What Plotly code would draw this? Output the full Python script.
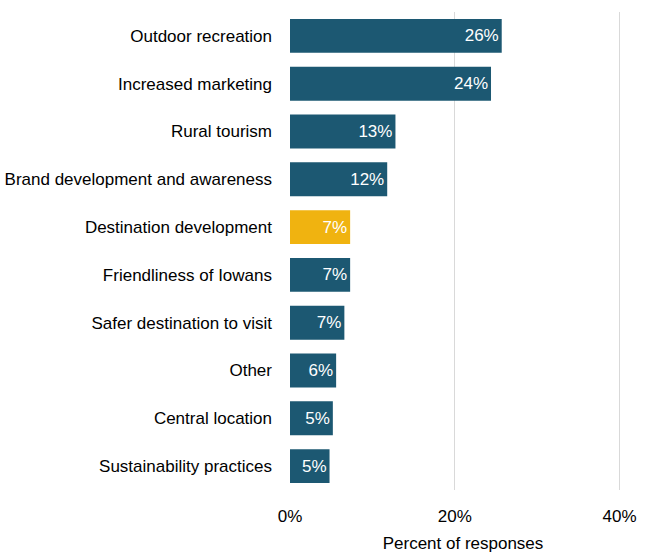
import plotly.graph_objects as go

# Survey responses: share of respondents citing each factor
categories = [
    "Outdoor recreation",
    "Increased marketing",
    "Rural tourism",
    "Brand development and awareness",
    "Destination development",
    "Friendliness of Iowans",
    "Safer destination to visit",
    "Other",
    "Central location",
    "Sustainability practices",
]
percent = [25.7, 24.4, 12.8, 11.8, 7.3, 7.3, 6.6, 5.6, 5.2, 4.8]
highlight = "Destination development"

BASE = "#1c5872"
ACCENT = "#f0b310"
FONT = "Liberation Sans Narrow, Arial Narrow, Liberation Sans, Arial, sans-serif"

colors = [ACCENT if c == highlight else BASE for c in categories]

fig = go.Figure(
    go.Bar(
        x=percent,
        y=categories,
        orientation="h",
        marker=dict(color=colors, line=dict(width=0)),
        width=0.71,
        text=percent,
        texttemplate="%{x:.0f}%",
        textposition="inside",
        insidetextanchor="end",
        textfont=dict(color="white", size=17, family=FONT),
        constraintext="none",
        hoverinfo="skip",
    )
)

fig.update_layout(
    width=654,
    height=555,
    margin=dict(l=290, r=18, t=12, b=65),
    paper_bgcolor="white",
    plot_bgcolor="white",
    font=dict(family=FONT, size=17, color="black"),
    showlegend=False,
    bargap=0.29,
)

fig.update_xaxes(
    range=[0, 42],
    tickvals=[0, 20, 40],
    ticktext=["0%", "20%", "40%"],
    showgrid=True,
    gridcolor="#d9d9d9",
    gridwidth=1,
    zeroline=False,
    showline=False,
    ticks="",
    automargin=False,
    ticklabelstandoff=14,
    tickfont=dict(size=17, color="black"),
    title=dict(text="Percent of responses", font=dict(size=17, color="black"), standoff=12),
)

fig.update_yaxes(
    categoryorder="array",
    categoryarray=list(reversed(categories)),
    showgrid=False,
    zeroline=False,
    showline=False,
    ticks="",
    automargin=False,
    ticklabelstandoff=17,
    tickfont=dict(size=17, color="black"),
)

fig.write_html("out.html")
